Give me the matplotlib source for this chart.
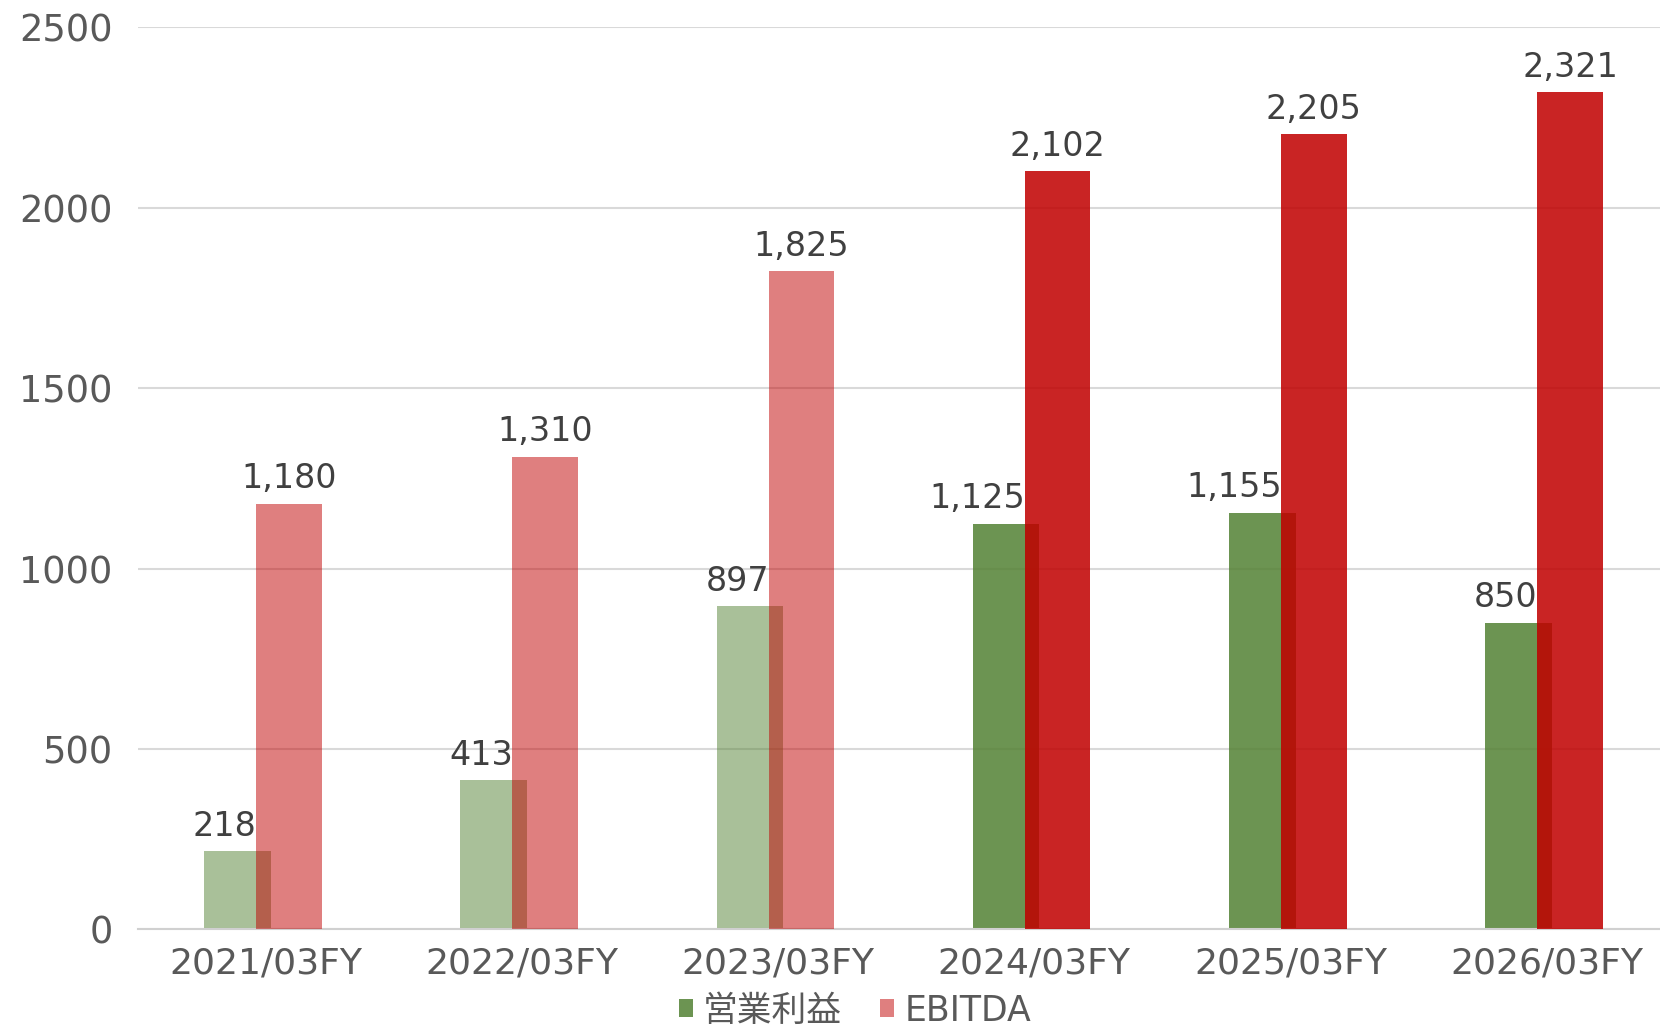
import numpy as np
import matplotlib.pyplot as plt
from matplotlib.colors import to_rgba
from matplotlib.patches import Patch

plt.rcParams['font.family'] = ['DejaVu Sans', 'Noto Sans CJK JP']

categories = ['2021/03FY', '2022/03FY', '2023/03FY', '2024/03FY', '2025/03FY', '2026/03FY']
op_income = [218, 413, 897, 1125, 1155, 850]
ebitda = [1180, 1310, 1825, 2102, 2205, 2321]
bar_alpha = [0.5, 0.5, 0.5, 0.86, 0.86, 0.86]

green = '#548235'
red = '#c00000'

fig = plt.figure(figsize=(16.6, 10.36), dpi=100)
ax = fig.add_axes([0.0829, 0.1028, 0.926, 0.8707])

x = np.arange(len(categories))
g_cols = [to_rgba(green, a) for a in bar_alpha]
r_cols = [to_rgba(red, a) for a in bar_alpha]

ax.bar(x - 0.24, op_income, width=0.26, align='edge', color=g_cols, zorder=2)
ax.bar(x - 0.037, ebitda, width=0.256, align='edge', color=r_cols, zorder=3)

for xi, v in zip(x, op_income):
    ax.annotate(f'{v:,}', (xi + 0.02 - 0.055, v), xytext=(0, 6), textcoords='offset points',
                ha='right', va='bottom', fontsize=24, color='#404040')
for xi, v in zip(x, ebitda):
    ax.annotate(f'{v:,}', (xi - 0.037 + 0.128, v), xytext=(0, 6), textcoords='offset points',
                ha='center', va='bottom', fontsize=24, color='#404040')

ax.set_xlim(-0.5, 5.5)
ax.set_ylim(0, 2500)
ax.set_yticks([0, 500, 1000, 1500, 2000, 2500])
ax.set_xticks(x)
ax.set_xticklabels(categories)
ax.tick_params(axis='y', length=0, pad=18, labelsize=26.5, labelcolor='#595959')
ax.tick_params(axis='x', length=0, pad=12, labelsize=26, labelcolor='#595959')
ax.grid(axis='y', color='#d9d9d9', linewidth=1.5, zorder=0)
ax.set_axisbelow(True)
for s in ['left', 'right', 'top']:
    ax.spines[s].set_visible(False)
ax.spines['bottom'].set_color('#d0d0d0')
ax.spines['bottom'].set_linewidth(1.5)

handles = [Patch(facecolor=to_rgba(green, 0.86), linewidth=0),
           Patch(facecolor=to_rgba(red, 0.5), linewidth=0)]
fig.legend(handles, ['営業利益', 'EBITDA'], loc='lower center', bbox_to_anchor=(0.515, -0.022),
           ncol=2, frameon=False, fontsize=25, labelcolor='#595959',
           handlelength=0.4, handleheight=0.4, handletextpad=0.3, columnspacing=1.1)

fig.savefig('out.png', dpi=100)
